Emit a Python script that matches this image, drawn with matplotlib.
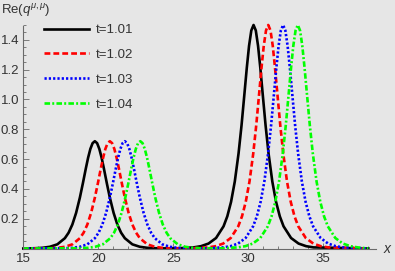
import matplotlib
matplotlib.use('Agg')
import matplotlib.pyplot as plt
from matplotlib.ticker import MultipleLocator

plt.rcParams['font.family'] = ['Liberation Sans', 'DejaVu Sans']
plt.rcParams['mathtext.fontset'] = 'custom'
plt.rcParams['mathtext.rm'] = 'Liberation Sans'
plt.rcParams['mathtext.it'] = 'Liberation Sans:italic'
plt.rcParams['lines.scale_dashes'] = False

# curve values (same two-hump shape, shifted with t)
y_vals = [0.0,
          0.0018, 0.0046, 0.0115, 0.028, 0.069, 0.106, 0.161, 0.239, 0.341, 0.437,
          0.538, 0.609, 0.668, 0.707, 0.72, 0.707, 0.668, 0.609, 0.538, 0.437,
          0.341, 0.239, 0.161, 0.106, 0.069, 0.028, 0.0115, 0.0046, 0.0018, 0.0003,
          0.0017, 0.0074, 0.0157, 0.0333, 0.0705, 0.149, 0.216, 0.313, 0.450, 0.638,
          0.828, 1.047, 1.213, 1.360, 1.463, 1.5, 1.463, 1.360, 1.213, 1.047,
          0.828, 0.638, 0.450, 0.313, 0.216, 0.149, 0.0705, 0.0333, 0.0157, 0.0074,
          0.0]

x_t101 = [15.0, 15.77, 16.27, 16.77, 17.27, 17.77, 18.02, 18.27, 18.52, 18.77, 18.97,
          19.17, 19.32, 19.47, 19.62, 19.77, 19.92, 20.07, 20.22, 20.37, 20.57,
          20.77, 21.02, 21.27, 21.52, 21.77, 22.27, 22.77, 23.27, 23.77, 24.77,
          25.35, 26.35, 26.85, 27.35, 27.85, 28.35, 28.6, 28.85, 29.1, 29.35,
          29.55, 29.75, 29.9, 30.05, 30.2, 30.35, 30.5, 30.65, 30.8, 30.95,
          31.15, 31.35, 31.6, 31.85, 32.1, 32.35, 32.85, 33.35, 33.85, 34.35,
          38.0]
x_t102 = [15.0, 16.77, 17.27, 17.77, 18.27, 18.77, 19.02, 19.27, 19.52, 19.77, 19.97,
          20.17, 20.32, 20.47, 20.62, 20.77, 20.92, 21.07, 21.22, 21.37, 21.57,
          21.77, 22.02, 22.27, 22.52, 22.77, 23.27, 23.77, 24.27, 24.77, 25.77,
          26.33, 27.33, 27.83, 28.33, 28.83, 29.33, 29.58, 29.83, 30.08, 30.33,
          30.53, 30.73, 30.88, 31.03, 31.18, 31.33, 31.48, 31.63, 31.78, 31.93,
          32.13, 32.33, 32.58, 32.83, 33.08, 33.33, 33.83, 34.33, 34.83, 35.33,
          38.0]
x_t103 = [15.0, 17.77, 18.27, 18.77, 19.27, 19.77, 20.02, 20.27, 20.52, 20.77, 20.97,
          21.17, 21.32, 21.47, 21.62, 21.77, 21.92, 22.07, 22.22, 22.37, 22.57,
          22.77, 23.02, 23.27, 23.52, 23.77, 24.27, 24.77, 25.27, 25.77, 26.77,
          27.32, 28.32, 28.82, 29.32, 29.82, 30.32, 30.57, 30.82, 31.07, 31.32,
          31.52, 31.72, 31.87, 32.02, 32.17, 32.32, 32.47, 32.62, 32.77, 32.92,
          33.12, 33.32, 33.57, 33.82, 34.07, 34.32, 34.82, 35.32, 35.82, 36.32,
          38.0]
x_t104 = [15.0, 18.8, 19.3, 19.8, 20.3, 20.8, 21.05, 21.3, 21.55, 21.8, 22.0,
          22.2, 22.35, 22.5, 22.65, 22.8, 22.95, 23.1, 23.25, 23.4, 23.6,
          23.8, 24.05, 24.3, 24.55, 24.8, 25.3, 25.8, 26.3, 26.8, 27.8,
          28.3, 29.3, 29.8, 30.3, 30.8, 31.3, 31.55, 31.8, 32.05, 32.3,
          32.5, 32.7, 32.85, 33.0, 33.15, 33.3, 33.45, 33.6, 33.75, 33.9,
          34.1, 34.3, 34.55, 34.8, 35.05, 35.3, 35.8, 36.3, 36.8, 37.3,
          38.0]

labels = ['t=1.01', 't=1.02', 't=1.03', 't=1.04']
x_series = [x_t101, x_t102, x_t103, x_t104]
colors = ['black', '#ff0000', '#0000ff', '#00ff00']
styles = ['-', (0, (4.2, 2.2)), (0, (1.6, 1.5)), (0, (4.0, 1.6, 1.4, 1.6))]

bg = '#e6e6e6'
axis_col = '#6a6a6a'
text_col = '#333333'

fig = plt.figure(figsize=(3.95, 2.71), dpi=100, facecolor=bg)
ax = fig.add_axes([0.059, 0.083, 0.8924, 0.8358])
ax.set_facecolor(bg)

for xs, lab, c, ls in zip(x_series, labels, colors, styles):
    ax.plot(xs, y_vals, color=c, linestyle=ls, linewidth=1.9, label=lab,
            clip_on=False)

ax.set_xlim(15, 38.5)
ax.set_ylim(0, 1.52)
ax.xaxis.set_major_locator(MultipleLocator(5))
ax.xaxis.set_minor_locator(MultipleLocator(1))
ax.set_yticks([0.2, 0.4, 0.6, 0.8, 1.0, 1.2, 1.4])
ax.yaxis.set_minor_locator(MultipleLocator(0.05))

for s in ['top', 'right']:
    ax.spines[s].set_visible(False)
for s in ['left', 'bottom']:
    ax.spines[s].set_color(axis_col)
    ax.spines[s].set_linewidth(0.8)
ax.spines['left'].set_bounds(0, 1.49)

ax.tick_params(which='both', direction='in', colors=axis_col, labelcolor=text_col,
               labelsize=9.5, width=0.6)
ax.tick_params(which='major', length=4, pad=3)
ax.tick_params(which='minor', length=2.2)

fig.text(0.003, 0.962, r'Re($q^{\mu,\mu}$)', fontsize=9.5, color=text_col,
         ha='left', va='center')
fig.text(0.97, 0.083, '$x$', fontsize=10, color=text_col, ha='left', va='center')

leg = ax.legend(loc='upper left', bbox_to_anchor=(44 / 395, 1 - 24 / 271),
                bbox_transform=fig.transFigure, frameon=False, fontsize=9.5,
                handlelength=3.4, handletextpad=0.5, labelspacing=0.95,
                borderpad=0, borderaxespad=0)
for t in leg.get_texts():
    t.set_color(text_col)

fig.savefig('out.png', dpi=100, facecolor=bg)
